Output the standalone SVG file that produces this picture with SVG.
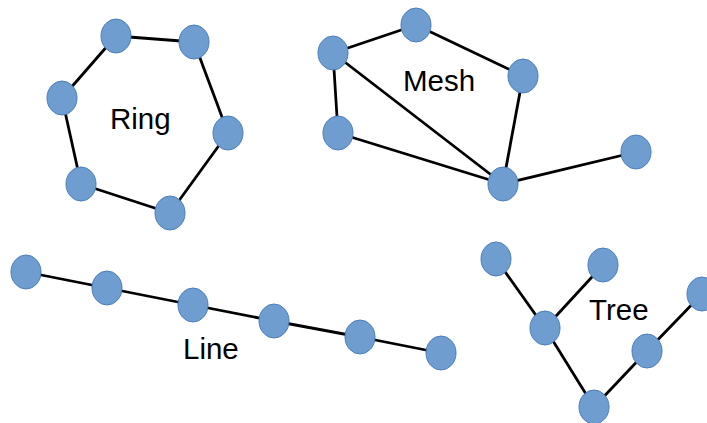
<svg xmlns="http://www.w3.org/2000/svg" width="707" height="423" viewBox="0 0 707 423">
  <style>
    .edge { stroke: #000; stroke-width: 2.8; fill: none; }
    .node ellipse { fill: #6f9dd0; stroke: #4a7ebb; stroke-width: 1; }
    .label { font-family: "Liberation Sans", Arial, sans-serif; font-size: 29.5px; fill: #000; }
  </style>
  <rect width="707" height="423" fill="#fff"/>

  <!-- connectors -->
  <g id="connectors">
    <!-- ring -->
    <line class="edge" x1="116" y1="36" x2="194" y2="42"/>
    <line class="edge" x1="194" y1="42" x2="228" y2="133"/>
    <line class="edge" x1="228" y1="133" x2="170" y2="213"/>
    <line class="edge" x1="170" y1="213" x2="81" y2="184"/>
    <line class="edge" x1="81" y1="184" x2="62" y2="98"/>
    <line class="edge" x1="62" y1="98" x2="116" y2="36"/>
    <!-- mesh -->
    <line class="edge" x1="333" y1="53" x2="416" y2="25"/>
    <line class="edge" x1="416" y1="25" x2="523" y2="76"/>
    <line class="edge" x1="333" y1="53" x2="338" y2="133"/>
    <line class="edge" x1="333" y1="53" x2="503" y2="184"/>
    <line class="edge" x1="338" y1="133" x2="503" y2="184"/>
    <line class="edge" x1="523" y1="76" x2="503" y2="184"/>
    <line class="edge" x1="503" y1="184" x2="636" y2="152"/>
    <!-- line -->
    <line class="edge" x1="26" y1="272" x2="107" y2="288"/>
    <line class="edge" x1="107" y1="288" x2="193" y2="305"/>
    <line class="edge" x1="193" y1="305" x2="274" y2="321"/>
    <line class="edge" x1="274" y1="321" x2="360" y2="337"/>
    <line class="edge" x1="360" y1="337" x2="441" y2="353"/>
    <!-- tree -->
    <line class="edge" x1="496" y1="259" x2="545" y2="328"/>
    <line class="edge" x1="603" y1="265" x2="545" y2="328"/>
    <line class="edge" x1="545" y1="328" x2="594" y2="407"/>
    <line class="edge" x1="594" y1="407" x2="647" y2="351"/>
    <line class="edge" x1="647" y1="351" x2="702" y2="294"/>
  </g>

  <!-- ring nodes -->
  <g id="ring-1" class="node"><ellipse cx="116" cy="36" rx="15" ry="17"/></g>
  <g id="ring-2" class="node"><ellipse cx="194" cy="42" rx="15" ry="17"/></g>
  <g id="ring-3" class="node"><ellipse cx="228" cy="133" rx="15" ry="17"/></g>
  <g id="ring-4" class="node"><ellipse cx="170" cy="213" rx="15" ry="17"/></g>
  <g id="ring-5" class="node"><ellipse cx="81" cy="184" rx="15" ry="17"/></g>
  <g id="ring-6" class="node"><ellipse cx="62" cy="98" rx="15" ry="17"/></g>

  <!-- mesh nodes -->
  <g id="mesh-1" class="node"><ellipse cx="333" cy="53" rx="15" ry="17"/></g>
  <g id="mesh-2" class="node"><ellipse cx="416" cy="25" rx="15" ry="17"/></g>
  <g id="mesh-3" class="node"><ellipse cx="523" cy="76" rx="15" ry="17"/></g>
  <g id="mesh-4" class="node"><ellipse cx="338" cy="133" rx="15" ry="17"/></g>
  <g id="mesh-5" class="node"><ellipse cx="503" cy="184" rx="15" ry="17"/></g>
  <g id="mesh-6" class="node"><ellipse cx="636" cy="152" rx="15" ry="17"/></g>

  <!-- line nodes -->
  <g id="line-1" class="node"><ellipse cx="26" cy="272" rx="15" ry="17"/></g>
  <g id="line-2" class="node"><ellipse cx="107" cy="288" rx="15" ry="17"/></g>
  <g id="line-3" class="node"><ellipse cx="193" cy="305" rx="15" ry="17"/></g>
  <g id="line-4" class="node"><ellipse cx="274" cy="321" rx="15" ry="17"/></g>
  <g id="line-5" class="node"><ellipse cx="360" cy="337" rx="15" ry="17"/></g>
  <g id="line-6" class="node"><ellipse cx="441" cy="353" rx="15" ry="17"/></g>

  <!-- tree nodes -->
  <g id="tree-1" class="node"><ellipse cx="496" cy="259" rx="15" ry="17"/></g>
  <g id="tree-2" class="node"><ellipse cx="603" cy="265" rx="15" ry="17"/></g>
  <g id="tree-3" class="node"><ellipse cx="545" cy="328" rx="15" ry="17"/></g>
  <g id="tree-4" class="node"><ellipse cx="594" cy="407" rx="15" ry="17"/></g>
  <g id="tree-5" class="node"><ellipse cx="647" cy="351" rx="15" ry="17"/></g>
  <g id="tree-6" class="node"><ellipse cx="702" cy="294" rx="15" ry="17"/></g>

  <!-- titles -->
  <g id="titles">
    <text class="label" x="110" y="129">Ring</text>
    <text class="label" x="403" y="91">Mesh</text>
    <text class="label" x="183" y="359">Line</text>
    <text class="label" x="589" y="320">Tree</text>
  </g>
</svg>
